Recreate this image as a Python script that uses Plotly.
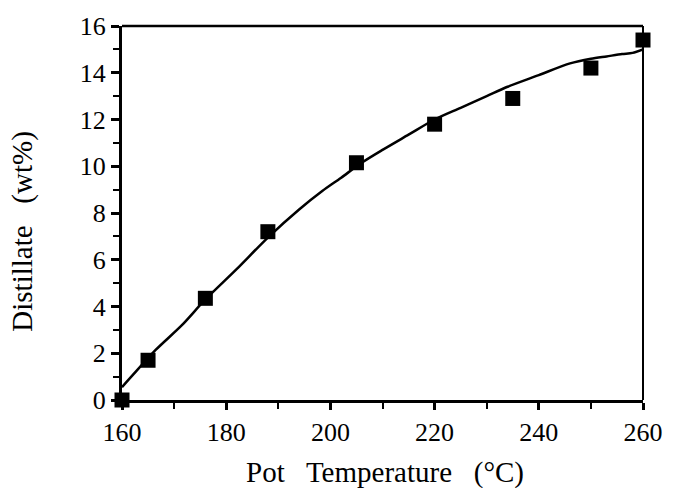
import plotly.graph_objects as go

# Measured data points
temp_pts = [160, 165, 176, 188, 205, 220, 235, 250, 260]
distillate_pts = [0.0, 1.7, 4.35, 7.2, 10.15, 11.8, 12.9, 14.2, 15.4]

# Fitted curve
temp_curve = [160, 162, 166.5, 171.5, 176, 182, 188, 194, 198.5, 202, 206, 210, 215, 220, 225, 230, 234, 240, 246, 250, 253, 256, 258, 260]
distillate_curve = [0.55, 1.05, 2.15, 3.2, 4.3, 5.6, 6.95, 8.15, 8.95, 9.5, 10.15, 10.7, 11.35, 12.0, 12.5, 13.0, 13.4, 13.9, 14.4, 14.6, 14.7, 14.8, 14.85, 15.0]

x_ticks = [160, 180, 200, 220, 240, 260]
y_ticks = [0, 2, 4, 6, 8, 10, 12, 14, 16]

FONT = "Liberation Serif"

fig = go.Figure()
fig.add_trace(go.Scatter(
    x=temp_curve, y=distillate_curve, mode="lines",
    line=dict(color="black", width=2.5, shape="spline", smoothing=0.8),
    hoverinfo="skip", showlegend=False, cliponaxis=False,
))
fig.add_trace(go.Scatter(
    x=temp_pts, y=distillate_pts, mode="markers",
    marker=dict(symbol="square", size=15, color="black"),
    showlegend=False, cliponaxis=False,
))

fig.update_layout(
    width=675, height=488,
    margin=dict(l=122, r=22, t=18, b=88),
    paper_bgcolor="white", plot_bgcolor="white",
    font=dict(family=FONT, size=26, color="black"),
    xaxis=dict(
        range=[160, 260], tickvals=x_ticks, ticks="outside", ticklen=7, tickwidth=2.5,
        tickcolor="black", showgrid=False, zeroline=False,
        showline=True, linewidth=3, linecolor="black",
        minor=dict(dtick=10, ticks="outside", ticklen=6, tickwidth=2, tickcolor="black", showgrid=False),
        tickfont=dict(family=FONT, size=26),
    ),
    yaxis=dict(
        range=[0, 16], tickvals=y_ticks, ticks="outside", ticklen=8, tickwidth=2.5,
        tickcolor="black", showgrid=False, zeroline=False,
        showline=True, linewidth=3, linecolor="black",
        minor=dict(dtick=1, ticks="outside", ticklen=6, tickwidth=2, tickcolor="black", showgrid=False),
        tickfont=dict(family=FONT, size=26),
    ),
    shapes=[
        dict(type="line", xref="paper", yref="paper", x0=0, x1=1, y0=1, y1=1,
             line=dict(color="black", width=2.5)),
        dict(type="line", xref="paper", yref="paper", x0=1, x1=1, y0=0, y1=1,
             line=dict(color="black", width=2)),
    ],
    annotations=[
        dict(text="Pot   Temperature   (°C)", xref="paper", yref="paper",
             x=0.505, y=-0.195, xanchor="center", yanchor="middle", showarrow=False,
             font=dict(family=FONT, size=29)),
        dict(text="Distillate   (wt%)", xref="paper", yref="paper",
             x=-0.19, y=0.45, xanchor="center", yanchor="middle", textangle=-90, showarrow=False,
             font=dict(family=FONT, size=29)),
    ],
)

fig.write_html("out.html")
